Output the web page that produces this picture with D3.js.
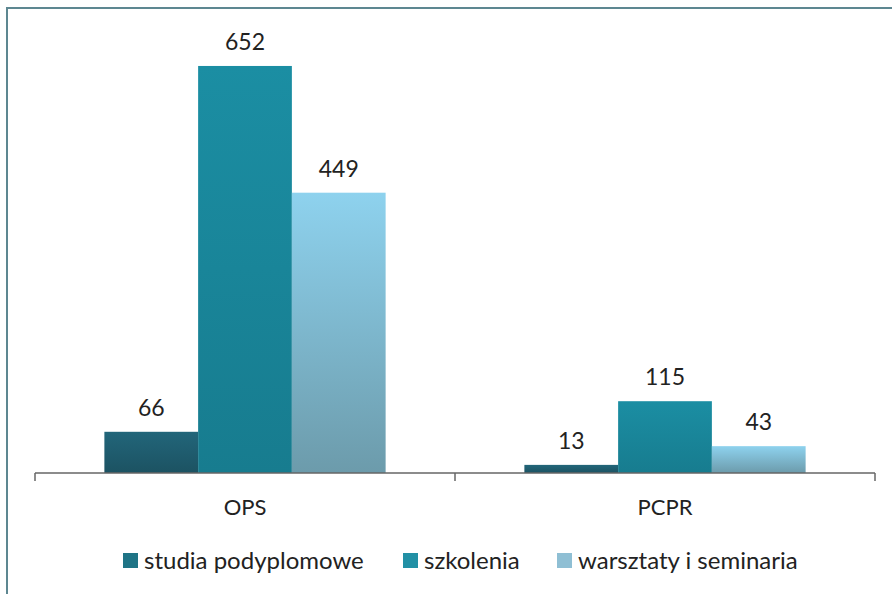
<!DOCTYPE html>
<html>
<head>
<meta charset="utf-8">
<script src="https://cdn.jsdelivr.net/npm/d3@7"></script>
<style>
  body { margin: 0; background: #fff; }
  svg { display: block; }
</style>
</head>
<body>
<svg id="chart" width="892" height="594"></svg>
<script>
var categories = ["OPS", "PCPR"];
var series = ["studia podyplomowe", "szkolenia", "warsztaty i seminaria"];
var studia = [66, 13];
var szkolenia = [652, 115];
var warsztaty = [449, 43];

var data = categories.map(function(c, i) {
  return {cat: c, values: [studia[i], szkolenia[i], warsztaty[i]]};
});

var svg = d3.select("#chart"),
    margin = {top: 36, right: 17, bottom: 121, left: 35},
    width = 892 - margin.left - margin.right,
    height = 594 - margin.top - margin.bottom;

var defs = svg.append("defs");
var grads = [
  ["g0", "#22667a", "#1c5262"],
  ["g1", "#1b8ea3", "#177c8f"],
  ["g2", "#8ed2ee", "#6c9bab"]
];
grads.forEach(function(g) {
  var lg = defs.append("linearGradient").attr("id", g[0])
      .attr("x1", 0).attr("y1", 0).attr("x2", 0).attr("y2", 1);
  lg.append("stop").attr("offset", "0%").attr("stop-color", g[1]);
  lg.append("stop").attr("offset", "100%").attr("stop-color", g[2]);
});
var legendColors = ["#1f7486", "#2290a5", "#8fbfd4"];

// frame
svg.append("rect")
    .attr("x", 7).attr("y", 8)
    .attr("width", 900).attr("height", 600)
    .attr("fill", "none")
    .attr("stroke", "#5d8791")
    .attr("stroke-width", 2);

var g = svg.append("g").attr("transform", "translate(" + margin.left + "," + margin.top + ")");

var x0 = d3.scaleBand()
    .domain(categories)
    .range([0, width]);

var x1 = d3.scaleBand()
    .domain(d3.range(series.length))
    .range([0, x0.bandwidth()])
    .paddingInner(0)
    .paddingOuter(0.74);

var y = d3.scaleLinear()
    .domain([0, 700])
    .range([height, 0]);

var font = "Lato, 'Open Sans', sans-serif";

var groups = g.selectAll(".grp")
    .data(data)
    .enter().append("g")
      .attr("class", "grp")
      .attr("transform", function(d) { return "translate(" + x0(d.cat) + ",0)"; });

groups.selectAll("rect")
    .data(function(d) { return d.values; })
    .enter().append("rect")
      .attr("x", function(d, i) { return x1(i); })
      .attr("y", function(d) { return y(d); })
      .attr("width", x1.bandwidth())
      .attr("height", function(d) { return height - y(d); })
      .attr("fill", function(d, i) { return "url(#g" + i + ")"; });

groups.selectAll("text.val")
    .data(function(d) { return d.values; })
    .enter().append("text")
      .attr("class", "val")
      .attr("x", function(d, i) { return x1(i) + x1.bandwidth() / 2; })
      .attr("y", function(d) { return y(d) - 16; })
      .attr("text-anchor", "middle")
      .style("font-family", font)
      .style("font-size", "23px")
      .attr("fill", "#222")
      .text(function(d) { return d; });

// x axis
var xAxis = g.append("g")
    .attr("transform", "translate(0," + height + ")")
    .call(d3.axisBottom(x0).tickSize(0).tickPadding(26));
xAxis.select(".domain").remove();
xAxis.selectAll("text")
    .style("font-family", font)
    .style("font-size", "22px")
    .attr("fill", "#222");

var axisLine = g.append("g").attr("stroke", "#666").attr("stroke-width", 1.5).attr("fill", "none");
axisLine.append("line")
    .attr("x1", 0).attr("x2", width)
    .attr("y1", height).attr("y2", height);
axisLine.selectAll(".tk")
    .data([0].concat(categories.map(function(c) { return x0(c) + x0.bandwidth(); })))
    .enter().append("line")
      .attr("x1", function(d) { return d; }).attr("x2", function(d) { return d; })
      .attr("y1", height).attr("y2", height + 8);

// legend
var legendX = [123, 403, 557];
var legend = svg.selectAll(".legend")
    .data(series)
    .enter().append("g")
      .attr("class", "legend")
      .attr("transform", function(d, i) { return "translate(" + legendX[i] + ",553)"; });

legend.append("rect")
    .attr("width", 15).attr("height", 15)
    .attr("fill", function(d, i) { return legendColors[i]; });

legend.append("text")
    .attr("x", 21)
    .attr("y", 8)
    .attr("dy", "0.35em")
    .style("font-family", font)
    .style("font-size", "24px")
    .attr("fill", "#222")
    .text(function(d) { return d; });
</script>
</body>
</html>
